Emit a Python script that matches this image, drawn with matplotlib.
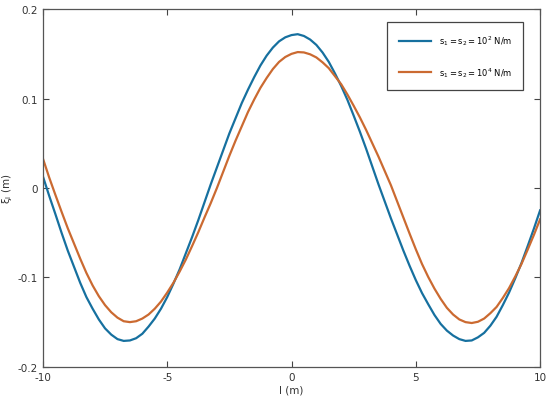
import numpy as np
import matplotlib
matplotlib.use('Agg')
import matplotlib.pyplot as plt

# values, step 0.25 m
l_vals = np.arange(-10, 10.001, 0.25)

xi_s1e2 = [0.013, -0.0085, -0.029, -0.050, -0.070, -0.088, -0.106, -0.122, -0.135, -0.147,
           -0.157, -0.164, -0.169, -0.171, -0.1705, -0.168, -0.163, -0.155, -0.146, -0.135,
           -0.122, -0.107, -0.091, -0.073, -0.055, -0.036, -0.016, 0.004, 0.023, 0.042,
           0.061, 0.078, 0.095, 0.110, 0.124, 0.137, 0.148, 0.157, 0.164, 0.1685,
           0.171, 0.172, 0.170, 0.166, 0.160, 0.1515, 0.141, 0.128, 0.114, 0.0985,
           0.081, 0.063, 0.044, 0.024, 0.004, -0.015, -0.034, -0.052, -0.070, -0.087,
           -0.103, -0.1175, -0.130, -0.142, -0.152, -0.1595, -0.165, -0.169, -0.171, -0.1705,
           -0.167, -0.162, -0.154, -0.144, -0.131, -0.117, -0.101, -0.084, -0.065, -0.0455,
           -0.025]

xi_s1e4 = [0.033, 0.012, -0.0075, -0.0265, -0.045, -0.062, -0.079, -0.095, -0.109, -0.121,
           -0.131, -0.139, -0.145, -0.149, -0.150, -0.149, -0.146, -0.1415, -0.135, -0.127,
           -0.117, -0.106, -0.0935, -0.080, -0.065, -0.0495, -0.033, -0.017, 0.000, 0.018,
           0.036, 0.053, 0.069, 0.085, 0.099, 0.112, 0.123, 0.133, 0.141, 0.1465,
           0.150, 0.152, 0.1516, 0.1495, 0.146, 0.1405, 0.134, 0.125, 0.116, 0.1045,
           0.092, 0.079, 0.065, 0.050, 0.035, 0.019, 0.003, -0.015, -0.033, -0.051,
           -0.0685, -0.085, -0.0995, -0.1125, -0.124, -0.134, -0.1415, -0.147, -0.150, -0.151,
           -0.1496, -0.146, -0.140, -0.133, -0.123, -0.112, -0.099, -0.085, -0.069, -0.0525,
           -0.035]

labels = [r'$\mathregular{s_1 = s_2 = 10^2}$ N/m',
          r'$\mathregular{s_1 = s_2 = 10^4}$ N/m']
colors = ['#16709f', '#cb6a31']

fig = plt.figure(figsize=(5.5, 4.06), dpi=100)
ax = fig.add_axes([0.078, 0.094, 0.904, 0.881])

ax.plot(l_vals, xi_s1e2, color=colors[0], lw=1.6, label=labels[0])
ax.plot(l_vals, xi_s1e4, color=colors[1], lw=1.6, label=labels[1])

ax.set_xlim(-10, 10)
ax.set_ylim(-0.2, 0.2)
ax.set_xticks([-10, -5, 0, 5, 10])
ax.set_yticks([-0.2, -0.1, 0, 0.1, 0.2])
ax.set_yticklabels(['-0.2', '-0.1', '0', '0.1', '0.2'])
ax.set_xticklabels(['-10', '-5', '0', '5', '10'])
ax.tick_params(direction='in', length=4, width=0.8, color='#444444',
               labelsize=7.5, labelcolor='#333333', top=True, right=True)
for sp in ax.spines.values():
    sp.set_color('#555555')
    sp.set_linewidth(0.9)

ax.set_xlabel('l (m)', fontsize=7.5, color='#333333', labelpad=2)
ax.set_ylabel(r'$\mathregular{\xi_l}$ (m)', fontsize=7.5, color='#333333', labelpad=3)

leg = ax.legend(loc='upper right', bbox_to_anchor=(0.966, 0.964), fontsize=6,
                frameon=True, fancybox=False, handlelength=3.9, labelspacing=2.1,
                borderpad=1.35, handletextpad=0.9, borderaxespad=0)
leg.get_frame().set_edgecolor('#444444')
leg.get_frame().set_linewidth(0.9)
leg.get_frame().set_alpha(1)

fig.savefig('out.png', dpi=100)
